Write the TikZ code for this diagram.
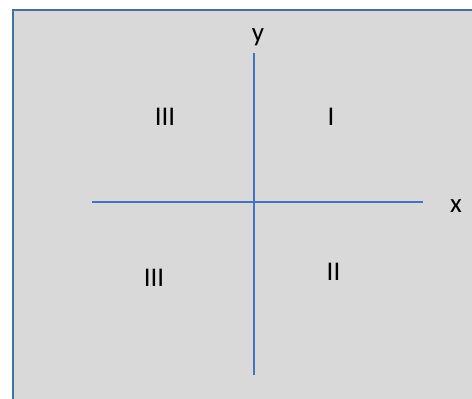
\documentclass[tikz,border=0pt]{standalone}
\usepackage{fontspec}
\setmainfont{Carlito}
\usetikzlibrary{positioning}
\definecolor{panelgray}{RGB}{217,217,217}
\definecolor{panelrim}{RGB}{65,113,156}
\definecolor{axisblue}{RGB}{68,114,196}

\begin{document}
\begin{tikzpicture}[x=1pt, y=-1pt,
  panel/.style={draw=panelrim, line width=2pt, fill=panelgray},
  axis/.style={draw=axisblue, line width=1.6pt},
  lbl/.style={inner sep=0pt, font=\fontsize{27}{32}\selectfont}]
\clip (0,0) rectangle (472,399);
\path[panel] (13,10) rectangle (490,420);
\coordinate (xl) at (92,202);
\coordinate (xr) at (423,202);
\coordinate (yt) at (254,53);
\coordinate (yb) at (254,375);
\draw[axis] (xl) -- (xr);
\draw[axis] (yt) -- (yb);
\node[lbl] (ylab) at (258,37.5) {y};
\node[lbl] (xlab) at (456,206) {x};
\node[lbl] (q3top) at (165,117) {III};
\node[lbl] (q1) at (331,117) {I};
\node[lbl] (q3bot) at (154,278) {III};
\node[lbl] (q2) at (333.5,272) {II};
\end{tikzpicture}
\end{document}
